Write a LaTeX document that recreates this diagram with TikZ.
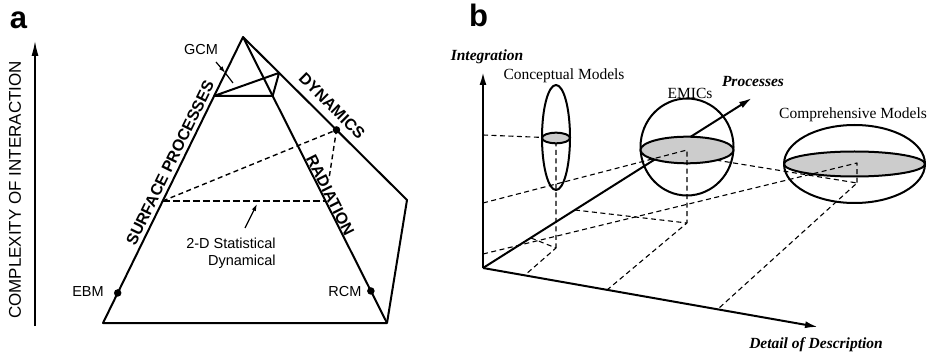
\documentclass[tikz,border=0pt]{standalone}
\usepackage{fontspec}
\setmainfont{Liberation Serif}
\newfontfamily\helv{Liberation Sans}
\usetikzlibrary{arrows.meta, calc}

\begin{document}
\begin{tikzpicture}[x=1pt, y=1pt, line join=round,
        edge/.style={line width=2pt},
        guide/.style={line width=1.1pt, dash pattern=on 5pt off 3.5pt},
        heavyguide/.style={line width=2.6pt, dash pattern=on 7pt off 3pt},
        axis/.style={line width=2pt, -{Latex[length=13pt,width=7pt]}},
        pointer/.style={line width=1.2pt, -{Latex[length=7pt,width=4.5pt]}},
        marker/.style={circle, fill=black, inner sep=0pt, minimum size=7.5pt},
        disk/.style={line width=2pt, fill=black!20},
        panel/.style={font=\helv\bfseries\fontsize{31}{31}\selectfont, inner sep=0pt},
        sanslabel/.style={font=\helv\fontsize{14.5}{17}\selectfont, inner sep=0pt},
        sidelabel/.style={font=\helv\bfseries\fontsize{16}{16}\selectfont, inner sep=1pt, sloped},
        serlabel/.style={font=\fontsize{15.5}{18}\selectfont, inner sep=0pt},
        axlabel/.style={font=\bfseries\itshape\fontsize{15.5}{18}\selectfont, inner sep=0pt}
    ]
    \useasboundingbox (0,0) rectangle (936,356);

    % panel a
    \node[panel] (lbla) at (18.5,335.5) {a};
    \coordinate (ybot) at (35,30);
    \coordinate (ytop) at (35,316);
    \draw[axis, -{Latex[length=16pt,width=7pt]}] (ybot) -- (ytop);
    \node[font=\helv\fontsize{17}{17}\selectfont, rotate=90, inner sep=0pt] (ylab) at (15,166) {COMPLEXITY OF INTERACTION};

    \coordinate (apex) at (243,319);
    \coordinate (bl) at (103,33);
    \coordinate (br) at (387,33);
    \coordinate (dc) at (407,156);
    \draw[edge] (bl) -- (apex) -- (dc) -- (br) -- cycle;
    \draw[edge] (apex) -- (br);

    \coordinate (t1) at ($(apex)!0.206!(bl)$);
    \coordinate (t3) at ($(apex)!0.206!(br)$);
    \coordinate (t2) at ($(apex)!0.22!(dc)$);
    \draw[edge] (t1) -- (t3) -- (t2) -- cycle;

    \coordinate (l1) at ($(bl)!0.4266!(apex)$);
    \coordinate (r1) at ($(br)!0.4266!(apex)$);
    \draw[heavyguide] (l1) -- (r1);
    \node[marker] (dynpt) at ($(apex)!0.57!(dc)$) {};
    \coordinate (dynend) at ($(dynpt.center)!0.7!(r1)$);
    \draw[guide, line width=1.4pt] (l1) -- (dynpt.center) -- (dynend);

    \node[marker] (ebm) at ($(bl)!0.105!(apex)$) {};
    \node[marker] (rcm) at ($(br)!0.112!(apex)$) {};
    \node[sanslabel] (ebmlab) at (88,64) {EBM};
    \node[sanslabel] (rcmlab) at (345,64) {RCM};
    \node[sanslabel] (gcmlab) at (201,306) {GCM};

    \coordinate (gcmtail) at (216,294);
    \coordinate (gcmhit) at ($(apex)!0.126!(bl)$);
    \coordinate (gcmend) at (233,273);
    \draw[pointer] (gcmtail) -- (gcmhit);
    \draw[line width=1.2pt] (gcmhit) -- (gcmend);

    \node[sanslabel, align=right] (sdlab) at (231,103) {2-D Statistical\\Dynamical};
    \coordinate (sdtail) at (245,128);
    \coordinate (sdhead) at (257,152);
    \draw[pointer] (sdtail) -- (sdhead);

    \path (bl) -- (apex) node[sidelabel, pos=0.544, above=3.3pt] (surf) {SURFACE PROCESSES};
    \path (apex) -- (dc) node[sidelabel, pos=0.483, above=7pt] (dyn) {DYNAMICS};
    \path (apex) -- (br) node[sidelabel, pos=0.563, above=0pt] (rad) {RADIATION};

    % panel b
    \node[panel] (lblb) at (478.5,341) {b};
    \coordinate (orig) at (483,88);
    \coordinate (itop) at (483,284);
    \coordinate (dtip) at (818,29);
    \coordinate (ptip) at (752,258);

    \coordinate (cm) at (556,218);
    \coordinate (em) at (687,206);
    \coordinate (km) at (857,193);
    \coordinate (g1) at (556,108);
    \coordinate (g2) at (687,133);
    \coordinate (g3) at (857,173);
    \coordinate (ia) at (483,221);
    \coordinate (ib) at (483,153);
    \coordinate (ic) at (483,102);
    \coordinate (pa1) at (531,118);
    \coordinate (pa2) at (575,146);
    \coordinate (pa3) at (666,204);
    \coordinate (da1) at (525,81);
    \coordinate (da2) at (607,66);
    \coordinate (da3) at (718,47);

    \draw[guide] (ia) -- (cm) -- (g1);
    \draw[guide] (pa1) -- (g1) -- (da1);
    \draw[guide] (pa2) -- (g2) -- (da2);
    \draw[guide] (pa3) -- (g3) -- (da3);

    \draw[axis] (orig) -- (itop);
    \draw[axis] (orig) -- (dtip);
    \draw[axis] (orig) -- (ptip);

    \draw[edge] ($(cm)+(0,0.5)$) ellipse [x radius=14, y radius=52.5];
    \draw[edge] ($(em)+(0,3)$) ellipse [x radius=46.5, y radius=48.5];
    \draw[edge] ($(km)+(-2.5,-1)$) ellipse [x radius=70.5, y radius=39];

    \draw[disk] (cm) ellipse [x radius=14, y radius=5.3];
    \draw[disk] (em) ellipse [x radius=46.5, y radius=13.3];
    \draw[disk] ($(km)+(-2.5,-1)$) ellipse [x radius=70.5, y radius=12.5];

    \draw[guide] (ib) -- (em) -- (g2);
    \draw[guide] (ic) -- (km) -- (g3);

    \node[axlabel] (intlab) at (487,299) {Integration};
    \node[serlabel] (cmlab) at (564,280) {Conceptual Models};
    \node[serlabel] (emlab) at (690,263) {EMICs};
    \node[axlabel] (prlab) at (753,274) {Processes};
    \node[serlabel] (kmlab) at (853,241) {Comprehensive Models};
    \node[axlabel] (ddlab) at (816,11) {Detail of Description};
\end{tikzpicture}
\end{document}
